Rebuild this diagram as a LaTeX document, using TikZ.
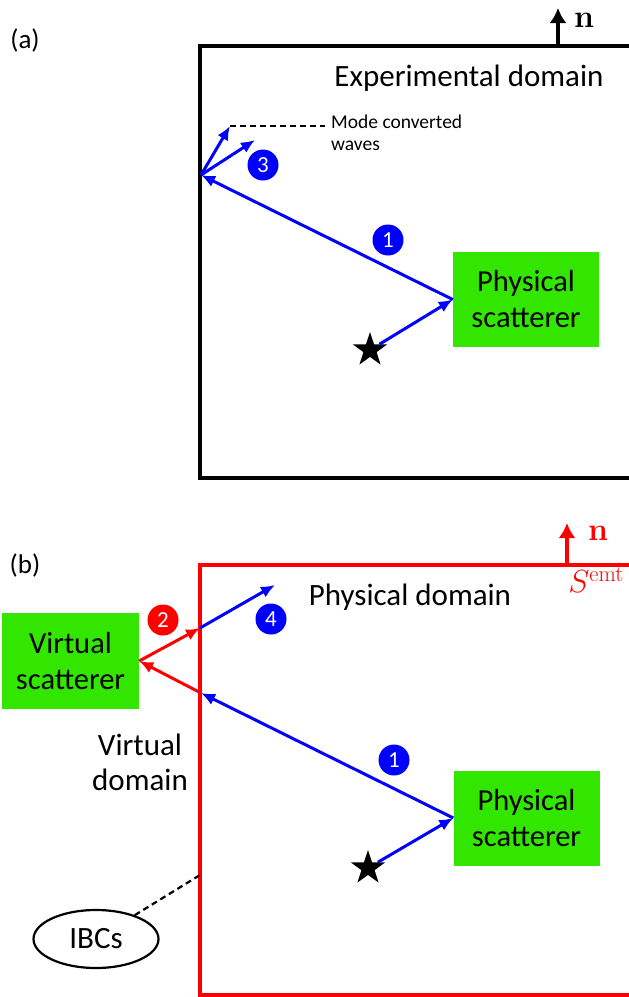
\RequirePackage{fix-cm}
\documentclass[tikz,border=0pt]{standalone}
\usepackage[no-math]{fontspec}
\setmainfont{Carlito}
\usetikzlibrary{shapes.geometric, calc, arrows.meta}
\definecolor{scatgreen}{RGB}{51,230,0}

\begin{document}
\begin{tikzpicture}[x=1pt, y=-1pt,
		every path/.style={>={Latex[length=14pt, width=12pt]}},
		box/.style={rectangle, fill=scatgreen, minimum width=146, minimum height=95, align=center, font=\fontsize{30.5}{36}\selectfont},
		wave/.style={->, line width=3, #1},
		normal/.style={-{Latex[length=15pt, width=17pt]}, line width=4, #1},
		num/.style={circle, fill=#1, text=white, inner sep=0, minimum size=31, font=\fontsize{23}{23}\selectfont},
		src/.style={star, star points=5, star point ratio=2.6, fill=black, inner sep=0, minimum size=36},
		big/.style={font=\fontsize{31}{35}\selectfont, align=center},
		pointer/.style={line width=2.2, dash pattern=on 6 off 4},
		panel/.style={font=\fontsize{27}{27}\selectfont}]
	\clip (0,0) rectangle (629,997);

	% (a) experimental domain
	\node[panel] (la) at (25,40) {(a)};
	\draw[line width=4] (200,46) rectangle (660,478);
	\coordinate (nA0) at (558,46);
	\coordinate (nA1) at (558,8);
	\draw[normal=black] (nA0) -- (nA1);
	\node (nA) at (584,20) {\fontsize{32}{32}\selectfont$\mathbf{n}$};
	\node[big] (ED) at (469,78) {Experimental domain};

	\node[box] (PSa) at (526,299.5) {Physical\\scatterer};
	\node[src] (Sa) at (370,350) {};
	\coordinate (Ra) at (201,175);
	\coordinate (Ma1) at (230,126);
	\coordinate (Ma2) at (255,140);
	\draw[wave=blue] (Sa) -- (PSa.west);
	\draw[wave=blue] (PSa.west) -- (Ra);
	\draw[wave=blue] (Ra) -- (Ma1);
	\draw[wave=blue] (Ra) -- (Ma2);
	\node[num=blue] (Na1) at (388,240) {1};
	\node[num=blue] (Na3) at (263,165) {3};
	\node[anchor=north west, align=left, inner sep=0, font=\fontsize{19.5}{22}\selectfont] (MC) at (331,115) {Mode converted\\waves};
	\draw[pointer] (Ma1) -- ($(Ma1 -| MC.west)+(-6,0)$);

	% (b) physical domain with virtual scatterer
	\node[panel] (lb) at (25,565) {(b)};
	\draw[red, line width=4] (200,565) rectangle (660,995);
	\coordinate (nB0) at (567,565);
	\coordinate (nB1) at (567,523);
	\draw[normal=red] (nB0) -- (nB1);
	\node[text=red] (nB) at (598,533) {\fontsize{32}{32}\selectfont$\mathbf{n}$};
	\node[text=red] (Semt) at (596,580) {\fontsize{32}{32}\selectfont$S^{\mathrm{emt}}$};
	\node[big] (PD) at (410,597) {Physical domain};

	\node[box] (PSb) at (526.5,818) {Physical\\scatterer};
	\node[box, minimum width=137, minimum height=96] (VS) at (70.5,661) {Virtual\\scatterer};
	\node[src] (Sb) at (368,868) {};
	\coordinate (Rb1) at (200,628);
	\coordinate (Rb2) at (201,693);
	\coordinate (Mb) at (275,585);
	\draw[wave=blue] (Sb) -- (PSb.west);
	\draw[wave=blue] (PSb.west) -- (Rb2);
	\draw[wave=red] (Rb2) -- (VS.east);
	\draw[wave=red] (VS.east) -- (Rb1);
	\draw[wave=blue] (Rb1) -- (Mb);
	\node[num=blue] (Nb1) at (394,760) {1};
	\node[num=red] (Nb2) at (163,620) {2};
	\node[num=blue] (Nb4) at (271,619) {4};
	\node[big] (VD) at (140,762) {Virtual\\domain};

	\node[ellipse, draw, line width=2.2, minimum width=125, minimum height=58, font=\fontsize{31}{31}\selectfont] (IBC) at (96,939) {IBCs};
	\coordinate (Bd) at (200,875);
	\draw[pointer] (IBC) -- (Bd);
\end{tikzpicture}
\end{document}
